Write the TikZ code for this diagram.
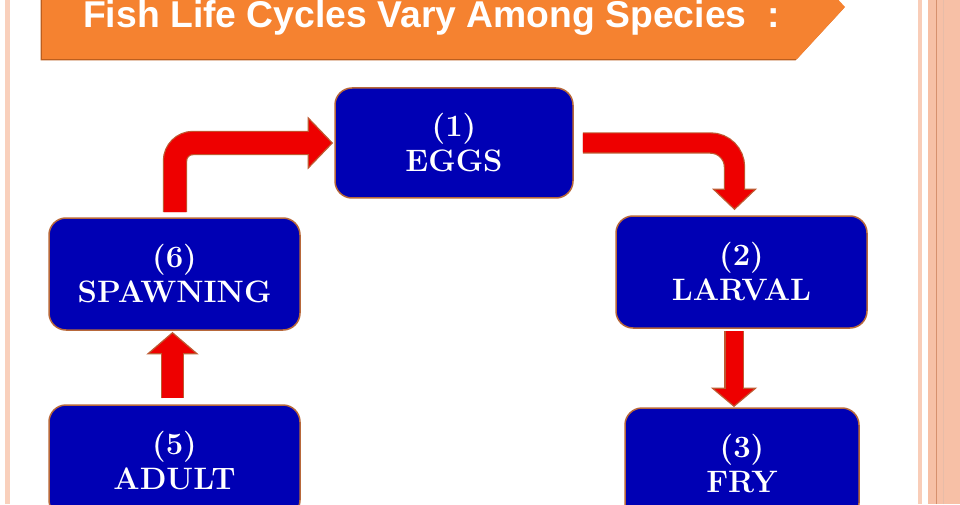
\documentclass[tikz,border=0pt]{standalone}
\usepackage{fontspec}
\newfontfamily\bannerfont{Liberation Sans}
\usepackage{tikz}
\usetikzlibrary{calc}
\definecolor{boxblue}{RGB}{0,0,180}
\definecolor{boxedge}{RGB}{184,104,58}
\definecolor{arrowred}{RGB}{238,0,0}
\definecolor{arrowedge}{RGB}{190,90,50}
\definecolor{bannerorange}{RGB}{245,130,48}
\definecolor{bannershadow}{RGB}{188,94,30}
\definecolor{rimpink}{RGB}{247,192,166}
\definecolor{rimline}{RGB}{214,144,110}

\begin{document}
\begin{tikzpicture}[x=1pt,y=1pt
	,stage/.style={rectangle,rounded corners=17pt,draw=boxedge,line width=1.5pt
		,fill=boxblue,text=white,align=center,inner sep=0pt
		,font=\fontsize{31}{35}\selectfont\bfseries}
	,fatshaft/.style={draw=arrowedge,line width=1.2pt,double=arrowred,double distance=#1}
	,fathead/.style={draw=arrowedge,fill=arrowred,line width=1.2pt,line join=miter}]
  \useasboundingbox (0,0) rectangle (960,504);
  \clip (0,0) rectangle (960,504);

  %page rims
  \fill[rimpink!75] (5,0) rectangle (10,504);
  \fill[rimpink!80] (918,0) rectangle (922,504);
  \fill[rimpink] (928,0) rectangle (960,504);
  \draw[rimline,line width=1pt] (936,0) -- (936,504);
  \draw[rimline!60,line width=0.6pt] (943,0) -- (943,504);

  %title banner
  \fill[bannershadow] (40.5,443.5) -- (795.5,443.5) -- (843.5,495.5) -- (795.5,549) -- (40.5,549) -- cycle;
  \fill[bannerorange] (42,445) -- (797,445) -- (845,497) -- (797,549) -- (42,549) -- cycle;
  \node[anchor=base west,inner sep=0pt,text=white
	,font=\bannerfont\fontsize{37.3}{37.3}\selectfont\bfseries] (title) at (83,476)
	{Fish Life Cycles Vary Among Species\ \ :};

  %stages of the cycle
  \node[stage,minimum width=238pt,minimum height=110pt] (eggs) at (454,361) {(1)\\EGGS};
  \node[stage,minimum width=251pt,minimum height=112pt] (larval) at (741.5,232) {(2)\\LARVAL};
  \node[stage,minimum width=234pt,minimum height=112pt] (fry) at (742,40) {(3)\\FRY};
  \node[stage,minimum width=251pt,minimum height=112pt] (adult) at (174.5,43) {(5)\\ADULT};
  \node[stage,minimum width=251pt,minimum height=112pt] (spawn) at (174.5,230) {(6)\\SPAWNING};

  %adult to spawning
  \draw[fathead] ($(spawn.south)+(-2,-2)$) coordinate (tipspawn) -- ++(-24.5,-21) -- ++(49,0) -- cycle;
  \draw[fatshaft=21pt] ($(adult.north)+(-2,6)$) -- ($(tipspawn)+(0,-20.4)$);
  %spawning to eggs
  \draw[fathead] ($(eggs.west)+(-2,0)$) coordinate (tipeggs) -- ++(-24,25) -- ++(0,-50) -- cycle;
  \draw[fatshaft=22pt,rounded corners=18pt] ($(spawn.north)+(0.5,5)$) |- ($(tipeggs)+(-23.4,0)$);
  %eggs to larval
  \draw[fathead] ($(larval.north)+(-7,6)$) coordinate (tiplarval) -- ++(-21,20) -- ++(42,0) -- cycle;
  \draw[fatshaft=19pt,rounded corners=24pt] ($(eggs.east)+(9,0)$) -| ($(tiplarval)+(0,19.4)$);
  %larval to fry
  \draw[fathead] ($(fry.north)+(-8,1)$) coordinate (tipfry) -- ++(-21.5,18) -- ++(43,0) -- cycle;
  \draw[fatshaft=17pt] ($(larval.south)+(-7.5,-2)$) -- ($(tipfry)+(0,17.4)$);
\end{tikzpicture}
\end{document}
